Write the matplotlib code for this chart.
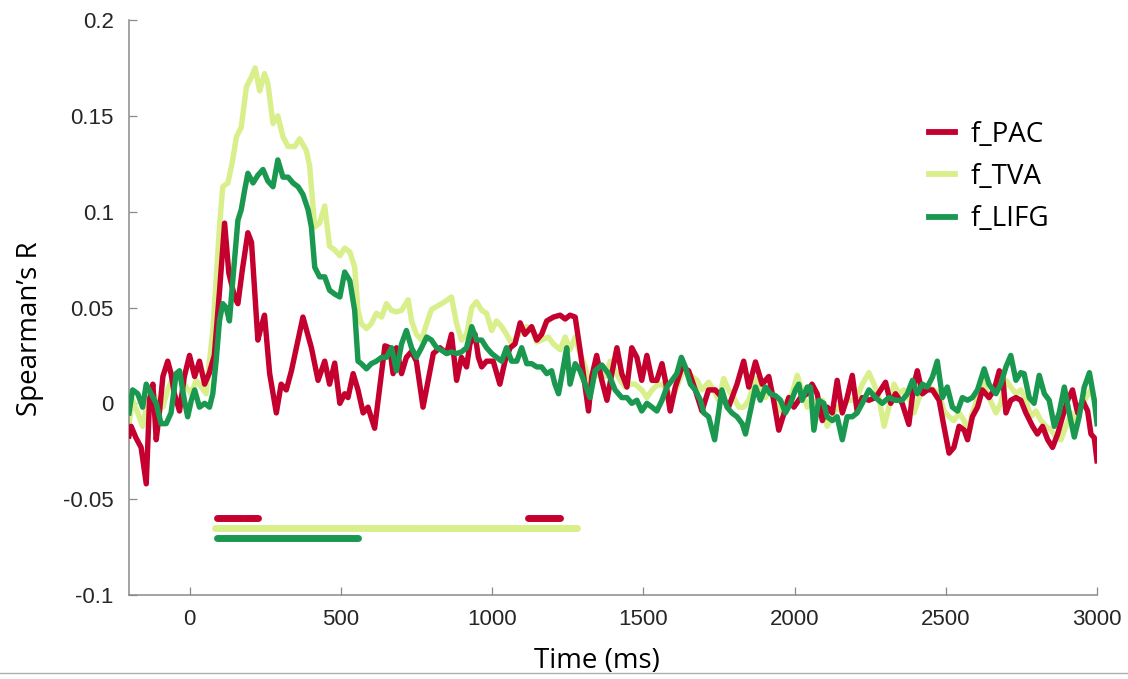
import matplotlib
matplotlib.use("Agg")
import matplotlib.pyplot as plt
from matplotlib.lines import Line2D
import numpy as np

# ---------------- data ----------------
pac_t = [-200, -193, -177, -160, -143, -132, -121, -110, -99, -88, -72, -61, -50, -33, -17, 0, 17, 33, 50, 66,
         82, 100, 116, 130, 150, 160, 175, 193, 205, 226, 237, 248, 265, 287, 303, 320, 337, 375, 403, 425, 447,
         463, 480, 497, 513, 524, 541, 557, 574, 590, 612, 629, 646, 662, 673, 684, 701, 717, 734, 750, 772,
         789, 806, 828, 850, 866, 883, 899, 916, 927, 944, 955, 966, 982, 1004, 1026, 1043, 1060, 1076, 1093,
         1109, 1131, 1148, 1164, 1181, 1203, 1225, 1242, 1258, 1275, 1291, 1308, 1319, 1330, 1346, 1363, 1380,
         1396, 1413, 1429, 1446, 1462, 1479, 1495, 1512, 1529, 1545, 1562, 1573, 1589, 1606, 1628, 1650, 1672,
         1694, 1716, 1738, 1760, 1782, 1810, 1832, 1849, 1871, 1893, 1915, 1931, 1948, 1965, 1981, 1998, 2020,
         2042, 2058, 2075, 2092, 2108, 2125, 2141, 2158, 2174, 2191, 2207, 2224, 2246, 2268, 2285, 2301, 2318,
         2334, 2356, 2378, 2395, 2406, 2423, 2439, 2456, 2478, 2494, 2511, 2527, 2544, 2561, 2572, 2588, 2605,
         2621, 2643, 2660, 2677, 2688, 2699, 2715, 2732, 2748, 2765, 2787, 2803, 2820, 2837, 2853, 2870, 2886,
         2903, 2919, 2936, 2952, 2969, 2980, 2991, 3000]
pac_r = [-0.017, -0.012, -0.018, -0.023, -0.042, 0.002, 0.010, -0.019, -0.004, 0.014, 0.022, 0.0155, 0.005,
         -0.004, 0.014, 0.025, 0.014, 0.022, 0.010, 0.016,
         0.025, 0.060, 0.094, 0.068, 0.055, 0.052, 0.070, 0.089, 0.084, 0.033, 0.040, 0.046, 0.0155, -0.005,
         0.010, 0.007, 0.017, 0.045, 0.029, 0.012, 0.022,
         0.010, 0.021, 0.000, 0.005, 0.003, 0.0155, 0.007, -0.005, -0.002, -0.013, 0.0085, 0.030, 0.029, 0.0155,
         0.029, 0.0155, 0.024, 0.027, 0.022, -0.002,
         0.012, 0.026, 0.029, 0.026, 0.036, 0.012, 0.024, 0.019, 0.031, 0.036, 0.024, 0.019, 0.022, 0.022, 0.010,
         0.022, 0.029, 0.031, 0.042,
         0.036, 0.040, 0.033, 0.036, 0.043, 0.045, 0.046, 0.044, 0.046, 0.045, 0.028, 0.0085, -0.004, 0.014,
         0.025, 0.012, 0.0016,
         0.0155, 0.029, 0.0155, 0.0085, 0.029, 0.024, 0.012, 0.025, 0.012, 0.012, 0.0207, 0.012, -0.004, 0.0085,
         0.019, 0.017, 0.007,
         -0.004, 0.007, 0.007, 0.003, -0.002, 0.010, 0.022, 0.0085, 0.0216, 0.010, 0.014, 0.0016, -0.014, -0.0054,
         0.003, -0.002, 0.003,
         0.005, 0.010, 0.005, -0.009, -0.002, -0.005, 0.012, -0.005, 0.003, 0.0146, -0.004, 0.003, 0.0016, 0.003,
         0.007, 0.011, 0.000,
         0.005, 0.000, -0.011, 0.010, 0.017, 0.005, 0.007, 0.007, 0.0016, -0.012, -0.026, -0.023, -0.012, -0.014,
         -0.019, -0.007, -0.002,
         0.007, 0.003, 0.007, 0.017, 0.014, -0.005, 0.0016, 0.003, 0.0016, -0.005, -0.012, -0.016, -0.012, -0.019,
         -0.023, -0.016, -0.007,
         0.0016, 0.007, -0.005, 0.0016, -0.004, -0.016, -0.018, -0.030]

tva_t = [-200, -188, -171, -155, -138, -121, -105, -88, -72, -50, -28, -11, 6, 22, 39, 55, 66, 77, 88, 99, 110,
         127, 143, 155, 171, 188, 204, 217, 232, 248, 259, 276, 292, 309, 326, 348, 364, 386, 397, 414, 430, 447,
         463, 480, 497, 513, 530, 546, 557, 568, 585, 601, 618, 635, 651, 668, 684, 701, 723, 734, 750, 767, 784,
         800, 822, 844, 866, 883, 899, 916, 933, 949, 966, 982, 999, 1015, 1032, 1048, 1065, 1082, 1098, 1115,
         1131, 1148, 1164, 1186, 1203, 1225, 1242, 1258, 1275, 1291, 1308, 1324, 1341, 1357, 1374, 1391, 1407,
         1424, 1440, 1457, 1473, 1495, 1512, 1529, 1545, 1562, 1578, 1595, 1611, 1628, 1644, 1661, 1678, 1694,
         1716, 1733, 1749, 1766, 1782, 1799, 1816, 1832, 1849, 1871, 1887, 1904, 1920, 1937, 1954, 1976, 1992,
         2009, 2025, 2042, 2058, 2075, 2092, 2108, 2125, 2141, 2158, 2174, 2191, 2207, 2224, 2246, 2263, 2279,
         2296, 2312, 2329, 2345, 2362, 2378, 2395, 2412, 2428, 2445, 2461, 2478, 2494, 2511, 2527, 2544, 2561,
         2572, 2588, 2605, 2621, 2643, 2666, 2682, 2699, 2715, 2732, 2748, 2765, 2781, 2798, 2815, 2831, 2848,
         2864, 2881, 2897, 2914, 2930, 2947, 2964, 2980, 3000]
tva_r = [-0.0106, 0.0016, -0.005, -0.012, 0.0016, 0.005, 0.0016, -0.002, 0.007, 0.0155, 0.014, 0.0085, 0.005,
         0.012, 0.0085, 0.005, 0.022, 0.038, 0.064, 0.092, 0.113,
         0.115, 0.127, 0.139, 0.144, 0.165, 0.170, 0.175, 0.163, 0.172, 0.167, 0.146, 0.150, 0.139, 0.134, 0.134,
         0.138, 0.132, 0.124, 0.092, 0.094, 0.103,
         0.082, 0.080, 0.077, 0.081, 0.079, 0.071, 0.0485, 0.0416, 0.039, 0.0416, 0.047, 0.045, 0.052, 0.0485,
         0.0477, 0.0485, 0.054, 0.043, 0.036, 0.033, 0.0416,
         0.049, 0.051, 0.053, 0.0555, 0.0416, 0.033, 0.036, 0.050, 0.053, 0.0485, 0.047, 0.038, 0.043, 0.040,
         0.036, 0.031, 0.0346, 0.038, 0.040,
         0.039, 0.032, 0.033, 0.0346, 0.031, 0.028, 0.0346, 0.028, 0.0346, 0.026, 0.019, 0.0085, 0.0155, 0.014,
         0.014, 0.022, 0.017,
         0.012, 0.0085, 0.010, 0.010, 0.007, 0.003, 0.007, 0.0094, 0.010, 0.007, 0.003, 0.0085, 0.0155, 0.017,
         0.014, 0.012, 0.007,
         0.011, 0.007, 0.0016, 0.013, 0.007, 0.003, -0.002, -0.002, 0.0016, 0.013, 0.0085, 0.003, 0.007, 0.003,
         -0.004, 0.0016, 0.005,
         0.0146, 0.007, -0.002, 0.0016, 0.000, 0.0016, -0.012, -0.007, -0.002, -0.004, 0.0016, 0.0016, 0.003,
         0.010, 0.016, 0.010, 0.003,
         -0.012, -0.002, 0.010, 0.005, 0.007, 0.003, -0.005, 0.003, 0.007, 0.0085, 0.007, 0.005, -0.004, -0.007,
         -0.009, -0.005, -0.009,
         -0.016, -0.005, 0.003, 0.012, 0.003, -0.005, 0.000, 0.012, 0.0085, 0.005, 0.007, 0.0016, -0.007, -0.004,
         -0.009, -0.012, -0.014,
         -0.0176, -0.019, -0.012, -0.005, -0.010, -0.002, 0.003, 0.007, -0.002]

lifg_t = [-200, -188, -171, -155, -143, -127, -110, -94, -77, -61, -44, -33, -17, -6, 6, 17, 33, 50, 66, 77, 88,
          99, 110, 121, 132, 143, 160, 171, 182, 193, 210, 226, 243, 259, 276, 292, 309, 326, 342, 359, 375, 392,
          403, 414, 430, 447, 463, 480, 497, 513, 530, 546, 557, 568, 585, 601, 618, 635, 651, 668, 684, 701, 717,
          734, 750, 767, 784, 800, 817, 833, 850, 866, 883, 899, 916, 933, 949, 966, 982, 999, 1015, 1032, 1048,
          1065, 1082, 1098, 1115, 1131, 1148, 1164, 1181, 1197, 1208, 1220, 1236, 1247, 1258, 1275, 1291, 1308,
          1324, 1341, 1363, 1385, 1407, 1429, 1446, 1462, 1479, 1495, 1512, 1529, 1545, 1562, 1578, 1595, 1611,
          1626, 1639, 1656, 1672, 1689, 1700, 1716, 1736, 1749, 1760, 1777, 1793, 1810, 1827, 1838, 1854, 1871,
          1887, 1904, 1920, 1937, 1954, 1970, 1987, 2003, 2014, 2025, 2042, 2053, 2064, 2080, 2097, 2108, 2125,
          2141, 2158, 2174, 2191, 2207, 2224, 2246, 2268, 2290, 2312, 2334, 2356, 2373, 2390, 2406, 2423, 2439,
          2456, 2472, 2489, 2505, 2522, 2539, 2555, 2572, 2588, 2605, 2627, 2643, 2666, 2682, 2699, 2715, 2732,
          2748, 2759, 2776, 2792, 2809, 2826, 2842, 2859, 2875, 2892, 2908, 2925, 2941, 2958, 2975, 2991, 3000]
lifg_r = [-0.005, 0.007, 0.005, -0.002, 0.010, 0.005, 0.000, -0.0106, -0.0106, -0.005, 0.0155, 0.017, 0.0016,
          -0.007, 0.0016, 0.007, -0.002, 0.000, -0.002, 0.005, 0.022,
          0.043, 0.052, 0.050, 0.043, 0.064, 0.0955, 0.101, 0.111, 0.120, 0.115, 0.119, 0.122, 0.116, 0.113, 0.127,
          0.118, 0.118, 0.115, 0.113, 0.109, 0.101,
          0.092, 0.071, 0.066, 0.066, 0.059, 0.057, 0.0555, 0.0685, 0.064, 0.0485, 0.022, 0.0207, 0.018, 0.0207,
          0.022, 0.024, 0.024, 0.029, 0.017, 0.031, 0.038,
          0.029, 0.024, 0.029, 0.0346, 0.033, 0.029, 0.0277, 0.026, 0.0268, 0.026, 0.0268, 0.029, 0.040, 0.033,
          0.033, 0.029, 0.026, 0.024, 0.022, 0.029,
          0.022, 0.022, 0.029, 0.0207, 0.0207, 0.019, 0.019, 0.0155, 0.017, 0.010, 0.005, 0.019, 0.029, 0.010,
          0.0207, 0.017, 0.010,
          0.003, 0.017, 0.020, 0.0155, 0.007, 0.003, 0.003, 0.000, 0.0016, -0.004, 0.000, -0.002, -0.004, 0.0016,
          0.0085, 0.012, 0.0155,
          0.024, 0.019, 0.010, 0.007, 0.0016, -0.005, -0.007, -0.019, -0.005, 0.007, -0.002, -0.005, -0.007,
          -0.0106, -0.016, -0.004, 0.0085,
          0.0016, 0.0085, 0.005, 0.004, 0.0016, -0.005, 0.000, 0.007, 0.010, 0.0016, 0.0085, 0.0085, -0.014,
          0.0016, 0.000, -0.007, -0.009,
          -0.007, -0.019, -0.007, -0.007, -0.005, 0.000, 0.007, 0.003, 0.000, 0.003, 0.0016, 0.0016, 0.005, 0.012,
          0.005, 0.010, 0.0085,
          0.0137, 0.022, 0.003, 0.0085, -0.002, -0.004, 0.003, 0.0016, 0.003, 0.007, 0.018, 0.010, 0.005, 0.010,
          0.019, 0.025, 0.012,
          0.016, 0.0155, 0.003, 0.000, 0.0146, 0.005, 0.0016, -0.012, -0.005, 0.0085, -0.005, -0.0176, -0.007,
          0.0085, 0.016, 0.0016, -0.0106]

series_names = ["f_PAC", "f_TVA", "f_LIFG"]
series_colors = ["#c4002f", "#d9ef8b", "#1a9850"]

# significance windows (start, end in ms) and their row level
pac_sig = [(92, 178), (184, 225)]
pac_sig2 = [(1119, 1178), (1183, 1225)]
tva_sig = [(83, 770), (776, 1065), (1071, 1157), (1163, 1280)]
lifg_sig = [(92, 558)]
sig_levels = [-0.06, -0.065, -0.07]

x_ticks = [0, 500, 1000, 1500, 2000, 2500, 3000]
y_ticks = [-0.1, -0.05, 0, 0.05, 0.1, 0.15, 0.2]
y_tick_labels = ["-0.1", "-0.05", "0", "0.05", "0.1", "0.15", "0.2"]

# ---------------- figure ----------------
W, H = 1128, 679
fig = plt.figure(figsize=(W / 100, H / 100), dpi=100)
ax = fig.add_axes([129 / W, 1 - 595 / H, (1097 - 129) / W, (595 - 20) / H])

lw = 3.9
ax.plot(tva_t, tva_r, color=series_colors[1], lw=lw, zorder=2, solid_joinstyle="round", label=series_names[1])
ax.plot(pac_t, pac_r, color=series_colors[0], lw=lw, zorder=3, solid_joinstyle="round", label=series_names[0])
ax.plot(lifg_t, lifg_r, color=series_colors[2], lw=lw, zorder=4, solid_joinstyle="round", label=series_names[2])

bar_lw = 5.0
for (a, b) in pac_sig + pac_sig2:
    ax.plot([a, b], [sig_levels[0]] * 2, color=series_colors[0], lw=bar_lw, solid_capstyle="round", zorder=3)
for (a, b) in tva_sig:
    ax.plot([a, b], [sig_levels[1]] * 2, color=series_colors[1], lw=bar_lw, solid_capstyle="round", zorder=2)
for (a, b) in lifg_sig:
    ax.plot([a, b], [sig_levels[2]] * 2, color=series_colors[2], lw=bar_lw, solid_capstyle="round", zorder=4)

ax.set_xlim(-200, 3000)
ax.set_ylim(-0.1, 0.2)
ax.set_xticks(x_ticks)
ax.set_xticklabels([str(v) for v in x_ticks])
ax.set_yticks(y_ticks)
ax.set_yticklabels(y_tick_labels)

axis_col = "#8a8a8a"
for s in ["top", "right"]:
    ax.spines[s].set_visible(False)
for s in ["left", "bottom"]:
    ax.spines[s].set_color(axis_col)
    ax.spines[s].set_linewidth(1.1)
ax.tick_params(axis="both", direction="in", length=6, width=0.9, color=axis_col,
               labelcolor="#262626", labelsize=16)
ax.tick_params(axis="x", pad=10)
ax.tick_params(axis="y", pad=11)
for lab in ax.get_xticklabels() + ax.get_yticklabels():
    lab.set_fontfamily("Liberation Sans")

label_font = ["Open Sans", "DejaVu Sans"]
fig.text(597 / W, 1 - 661 / H, "Time (ms)", ha="center", va="center", fontsize=20,
         family=label_font, color="black")
fig.text(30 / W, 1 - 329 / H, "Spearman\u2019s R", ha="center", va="center", rotation=90,
         fontsize=20, family=label_font, color="black")

handles = [Line2D([], [], color=c, lw=4.2) for c in series_colors]
leg = fig.legend(handles, series_names, loc="center left",
                 bbox_to_anchor=(929 / W, 1 - 177 / H), frameon=False,
                 prop={"family": label_font, "size": 20}, handlelength=0.95,
                 handletextpad=0.55, labelspacing=0.52, borderpad=0, borderaxespad=0)

# thin grey rule at the bottom of the slide
fig.add_artist(Line2D([0, 1], [1 - 673 / H, 1 - 673 / H], transform=fig.transFigure,
                      color="#b0b0b0", lw=1.0))

fig.savefig("out.png", dpi=100)
